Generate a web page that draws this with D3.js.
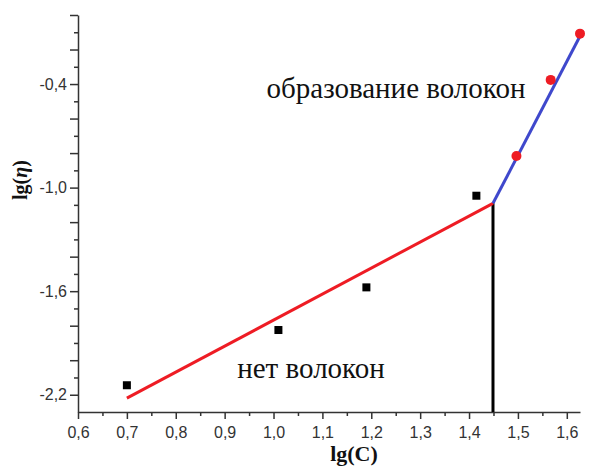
<!DOCTYPE html>
<html>
<head>
<meta charset="utf-8">
<script src="https://cdn.jsdelivr.net/npm/d3@7"></script>
<style>
  body { margin: 0; background: #fff; }
</style>
</head>
<body>
<div id="chart-area"></div>
<script>
// measured points
var lowX = [0.70, 1.01, 1.19, 1.415];
var lowY = [-2.145, -1.825, -1.578, -1.047];
var highX = [1.497, 1.567, 1.627];
var highY = [-0.817, -0.376, -0.108];

// fitted segments and break point
var breakX = 1.449;
var breakY = -1.091;
var lowFit = [[0.70, -2.22], [breakX, breakY]];
var highFit = [[breakX, breakY], [1.633, -0.09]];

var xTickLabels = [0.6, 0.7, 0.8, 0.9, 1.0, 1.1, 1.2, 1.3, 1.4, 1.5, 1.6];
var yTickLabels = [-2.2, -1.6, -1.0, -0.4];

var SERIF = "'Liberation Serif', 'Times New Roman', serif";
var SANS = "'Liberation Sans', Arial, sans-serif";

var svg = d3.select("#chart-area")
  .append("svg")
  .attr("width", 595)
  .attr("height", 471);

var x = d3.scaleLinear()
  .domain([0.6, 1.627])
  .range([78, 580]);

var y = d3.scaleLinear()
  .domain([-2.3, 0])
  .range([412, 15]);

var fmt = d => d.toFixed(1).replace(".", ",");

// X axis: major 0.1, minor 0.05
var xMinor = d3.range(0.65, 1.62, 0.1);
svg.append("g")
  .attr("transform", "translate(0,412)")
  .call(d3.axisBottom(x).tickValues(xMinor).tickSize(4).tickFormat(""))
  .call(g => g.select(".domain").remove())
  .selectAll("line").attr("stroke", "#333").attr("stroke-width", 1.5);

svg.append("g")
  .attr("transform", "translate(0,412)")
  .call(d3.axisBottom(x).tickValues(xTickLabels).tickSize(7).tickSizeOuter(0).tickFormat(fmt))
  .call(g => g.select(".domain").attr("stroke", "#333").attr("stroke-width", 1.5))
  .call(g => g.selectAll("line").attr("stroke", "#333").attr("stroke-width", 1.5))
  .call(g => g.selectAll("text")
    .attr("y", 15).attr("dy", "0.71em")
    .style("font-family", SANS).style("font-size", "16px").attr("fill", "#333"));

// Y axis: minor 0.1, major 0.2, labels every 0.6
var yMinor = d3.range(-2.1, 0, 0.2);
var yMajor = d3.range(-2.2, 0.05, 0.2);
svg.append("g")
  .attr("transform", "translate(78,0)")
  .call(d3.axisLeft(y).tickValues(yMinor).tickSize(4).tickFormat(""))
  .call(g => g.select(".domain").remove())
  .selectAll("line").attr("stroke", "#333").attr("stroke-width", 1.5);

svg.append("g")
  .attr("transform", "translate(78,0)")
  .call(d3.axisLeft(y).tickValues(yMajor).tickSize(8).tickSizeOuter(0)
    .tickFormat(d => yTickLabels.some(v => Math.abs(v - d) < 1e-6) ? fmt(d) : ""))
  .call(g => g.select(".domain").attr("stroke", "#333").attr("stroke-width", 1.5))
  .call(g => g.selectAll("line").attr("stroke", "#333").attr("stroke-width", 1.5))
  .call(g => g.selectAll("text")
    .attr("x", -11)
    .style("font-family", SANS).style("font-size", "16px").attr("fill", "#333"));

// Axis labels
svg.append("text")
  .attr("x", 354)
  .attr("y", 461)
  .attr("text-anchor", "middle")
  .style("font-family", SERIF)
  .style("font-weight", "bold")
  .style("font-size", "22px")
  .attr("fill", "#111")
  .text("lg(C)");

var yl = svg.append("text")
  .attr("transform", "translate(27,180) rotate(-90)")
  .attr("text-anchor", "middle")
  .style("font-family", SERIF)
  .style("font-weight", "bold")
  .style("font-size", "20px")
  .attr("fill", "#111");
yl.append("tspan").text("lg(");
yl.append("tspan").style("font-style", "italic").text("η");
yl.append("tspan").text(")");

var line = d3.line().x(d => x(d[0])).y(d => y(d[1]));

// black break line
svg.append("line")
  .attr("x1", x(breakX)).attr("x2", x(breakX))
  .attr("y1", y(breakY)).attr("y2", y(-2.3))
  .attr("stroke", "#000")
  .attr("stroke-width", 3);

// Fit lines
svg.append("path")
  .attr("d", line(lowFit))
  .attr("fill", "none")
  .attr("stroke", "#ee1c24")
  .attr("stroke-width", 3);

svg.append("path")
  .attr("d", line(highFit))
  .attr("fill", "none")
  .attr("stroke", "#3f48cc")
  .attr("stroke-width", 3);

// Squares
svg.selectAll("rect.pt")
  .data(lowX)
  .enter()
  .append("rect")
  .attr("class", "pt")
  .attr("x", d => x(d) - 4)
  .attr("y", (d, i) => y(lowY[i]) - 4)
  .attr("width", 8)
  .attr("height", 8)
  .attr("fill", "#000");

// Circles
svg.selectAll("circle.pt")
  .data(highX)
  .enter()
  .append("circle")
  .attr("class", "pt")
  .attr("cx", d => x(d))
  .attr("cy", (d, i) => y(highY[i]))
  .attr("r", 5)
  .attr("fill", "#ee1c24");

// Annotations
svg.append("text")
  .attr("x", 396)
  .attr("y", 98)
  .attr("text-anchor", "middle")
  .style("font-family", SERIF)
  .style("font-size", "29px")
  .attr("fill", "#111")
  .text("образование волокон");

svg.append("text")
  .attr("x", 311)
  .attr("y", 378)
  .attr("text-anchor", "middle")
  .style("font-family", SERIF)
  .style("font-size", "29px")
  .attr("fill", "#111")
  .text("нет волокон");
</script>
</body>
</html>
